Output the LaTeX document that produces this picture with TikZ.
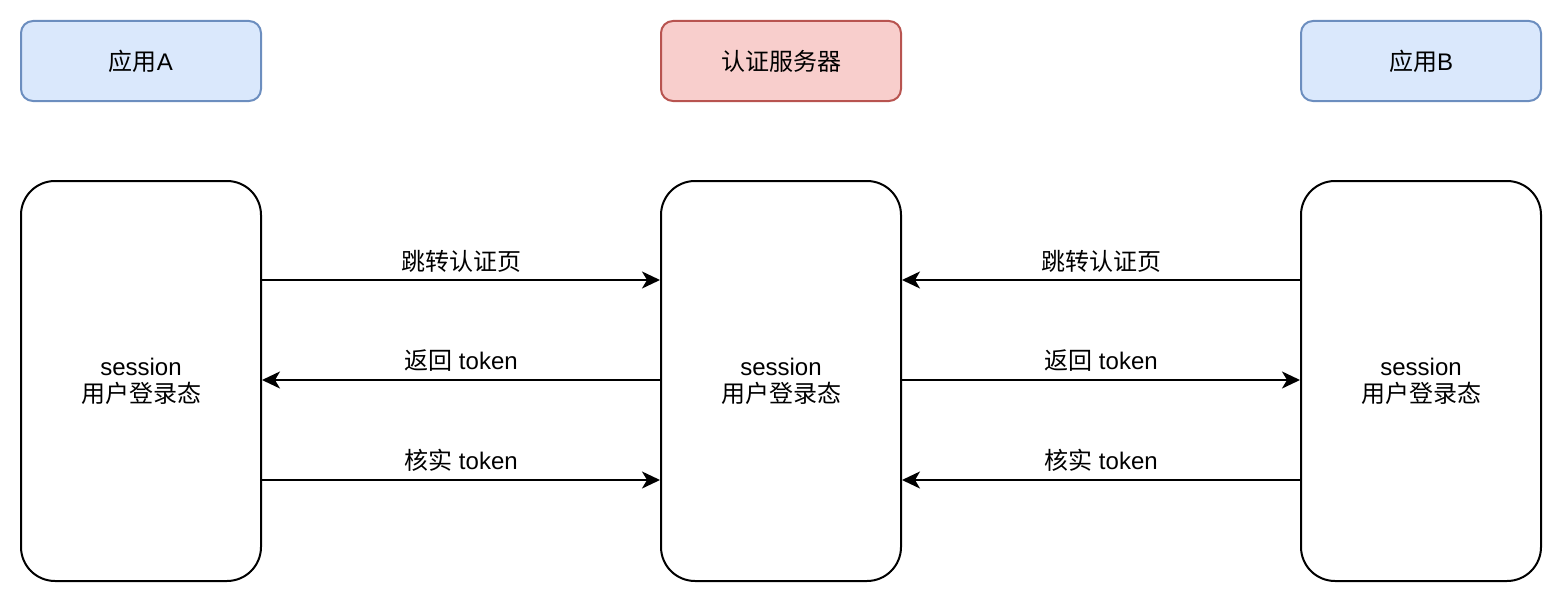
\documentclass[tikz,border=0pt]{standalone}
\usepackage{fontspec}
\setmainfont{Liberation Sans}
\newfontfamily\cjk{Noto Sans CJK SC}
\usetikzlibrary{arrows.meta,calc}
\definecolor{bluefill}{HTML}{DAE8FC}
\definecolor{bluedraw}{HTML}{6C8EBF}
\definecolor{redfill}{HTML}{F8CECC}
\definecolor{reddraw}{HTML}{B85450}
\begin{document}
\begin{tikzpicture}[x=1pt,y=-1pt,
  every node/.style={font=\fontsize{24pt}{27pt}\selectfont},
  headbox/.style={rounded corners=12pt,line width=2pt,minimum width=240pt,minimum height=80pt,inner sep=0pt},
  appbox/.style={headbox,draw=bluedraw,fill=bluefill},
  srvbox/.style={headbox,draw=reddraw,fill=redfill},
  bigbox/.style={draw=black,rounded corners=34pt,line width=2pt,minimum width=240pt,minimum height=400pt,inner sep=0pt,align=center},
  flow/.style={line width=2pt,-{Stealth[length=18pt,width=17pt,inset=5pt]}},
  lbl/.style={inner sep=0pt,anchor=base}
]
\useasboundingbox (0,0) rectangle (1562,602);
\node[appbox] (hA) at (141,61) {{\cjk 应用}A};
\node[srvbox] (hS) at (781,61) {\cjk 认证服务器};
\node[appbox] (hB) at (1421,61) {{\cjk 应用}B};

\node[bigbox] (A) at (141,381) {session\\{\cjk 用户登录态}};
\node[bigbox] (S) at (781,381) {session\\{\cjk 用户登录态}};
\node[bigbox] (B) at (1421,381) {session\\{\cjk 用户登录态}};

% left side
\draw[flow] ($(A.north east)+(0,100)$) coordinate (a1) -- ($(S.north west)+(0,100)$) coordinate (s1);
\node[lbl] (la1) at ($(a1)!0.5!(s1)+(0,-10)$) {\cjk 跳转认证页};
\draw[flow] ($(S.north west)+(0,200)$) coordinate (s2) -- ($(A.north east)+(0,200)$) coordinate (a2);
\node[lbl] (la2) at ($(a2)!0.5!(s2)+(0,-11)$) {{\cjk 返回} token};
\draw[flow] ($(A.north east)+(0,300)$) coordinate (a3) -- ($(S.north west)+(0,300)$) coordinate (s3);
\node[lbl] (la3) at ($(a3)!0.5!(s3)+(0,-11)$) {{\cjk 核实} token};

% right side
\draw[flow] ($(B.north west)+(0,100)$) coordinate (b1) -- ($(S.north east)+(0,100)$) coordinate (t1);
\node[lbl] (lb1) at ($(b1)!0.5!(t1)+(0,-10)$) {\cjk 跳转认证页};
\draw[flow] ($(S.north east)+(0,200)$) coordinate (t2) -- ($(B.north west)+(0,200)$) coordinate (b2);
\node[lbl] (lb2) at ($(b2)!0.5!(t2)+(0,-11)$) {{\cjk 返回} token};
\draw[flow] ($(B.north west)+(0,300)$) coordinate (b3) -- ($(S.north east)+(0,300)$) coordinate (t3);
\node[lbl] (lb3) at ($(b3)!0.5!(t3)+(0,-11)$) {{\cjk 核实} token};
\end{tikzpicture}
\end{document}
